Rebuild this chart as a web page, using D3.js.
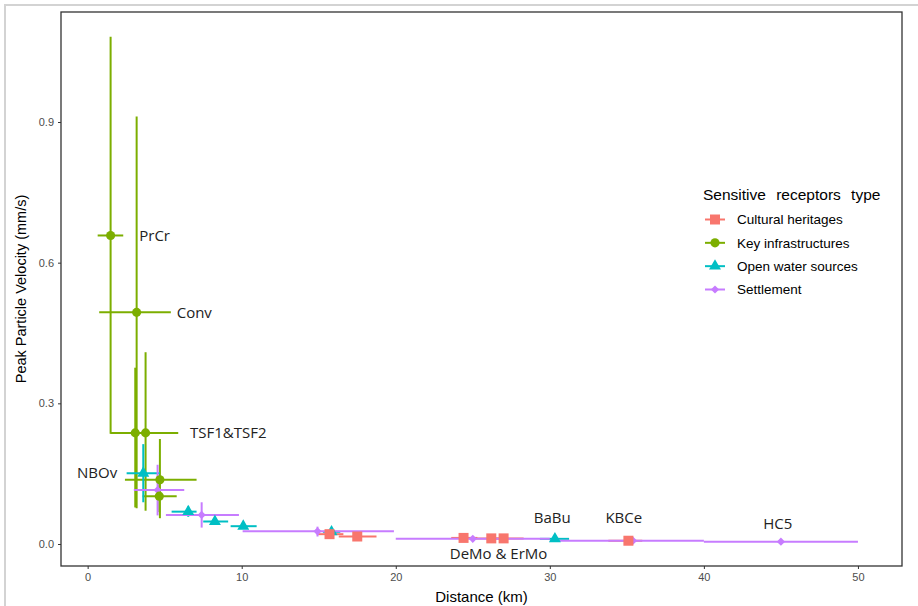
<!DOCTYPE html>
<html>
<head>
<meta charset="utf-8">
<script src="https://cdn.jsdelivr.net/npm/d3@7"></script>
<style>
  body { margin: 0; background: #fff; }
  svg { display: block; }
</style>
</head>
<body>
<svg id="chart" width="918" height="606"></svg>
<script>
// Données : [distance, ppv, distMin, distMax, ppvMin, ppvMax]
const cultural = [
  [15.7, 0.021, 14.9, 16.6, 0.018, 0.024],
  [17.5, 0.016, 16.3, 18.75, 0.013, 0.019],
  [24.4, 0.013, 23.6, 25.3, 0.011, 0.015],
  [26.2, 0.012, 25.2, 27.3, 0.010, 0.014],
  [27.0, 0.012, 26.0, 28.3, 0.010, 0.014],
  [35.1, 0.007, 33.8, 36.0, 0.006, 0.008]
];
const keyInfra = [
  [1.49, 0.658, 0.65, 2.31, 0.235, 1.082],
  [3.18, 0.494, 0.75, 5.40, 0.076, 0.912],
  [3.09, 0.237, 1.49, 4.70, 0.078, 0.376],
  [3.76, 0.237, 1.50, 5.88, 0.071, 0.409],
  [4.69, 0.137, 2.42, 7.07, 0.055, 0.224],
  [4.65, 0.102, 3.57, 5.78, 0.068, 0.135]
];
const openWater = [
  [3.61, 0.151, 2.53, 4.69, 0.089, 0.213],
  [6.53, 0.069, 5.45, 7.07, 0.058, 0.080],
  [8.26, 0.048, 7.50, 9.12, 0.042, 0.054],
  [10.1, 0.038, 9.28, 10.97, 0.033, 0.042],
  [15.83, 0.026, 15.27, 16.4, 0.020, 0.032],
  [30.33, 0.011, 29.35, 31.25, 0.009, 0.012]
];
const settlement = [
  [4.54, 0.115, 3.00, 6.27, 0.061, 0.169],
  [7.40, 0.062, 5.08, 9.82, 0.035, 0.089],
  [14.92, 0.027, 10.06, 19.88, 0.016, 0.037],
  [25.0, 0.011, 20.0, 30.0, 0.010, 0.012],
  [35.4, 0.007, 30.0, 40.0, 0.006, 0.008],
  [45.0, 0.005, 40.0, 50.0, 0.004, 0.006]
];

// Étiquettes des sites : [texte, distance, ppv, ancrage]
const siteLabels = [
  ["PrCr", 3.35, 0.658, "start"],
  ["Conv", 5.78, 0.494, "start"],
  ["TSF1&TSF2", 6.64, 0.238, "start"],
  ["NBOv", 1.92, 0.153, "end"],
  ["DeMo & ErMo", 26.67, -0.020, "middle"],
  ["BaBu", 30.16, 0.055, "middle"],
  ["KBCe", 34.8, 0.055, "middle"],
  ["HC5", 44.8, 0.044, "middle"]
];

const xTicks = [0, 10, 20, 30, 40, 50];
const yTicks = [0, 0.3, 0.6, 0.9];

const groups = [
  { name: "Cultural heritages", color: "#F8766D", shape: "square", data: cultural },
  { name: "Key infrastructures", color: "#7CAE00", shape: "circle", data: keyInfra },
  { name: "Open water sources", color: "#00BFC4", shape: "triangle", data: openWater },
  { name: "Settlement", color: "#C77CFF", shape: "diamond", data: settlement }
];

const svg = d3.select("#chart");

// Zone du panneau
const panel = { left: 61, right: 902, top: 12, bottom: 566 };

const x = d3.scaleLinear()
  .domain([-1.73, 52.86])
  .range([panel.left, panel.right]);

const y = d3.scaleLinear()
  .domain([-0.0469, 1.1346])
  .range([panel.bottom, panel.top]);

// Cadre gris clair autour de l'image
svg.append("path")
  .attr("d", "M5,606V5H918")
  .attr("fill", "none")
  .attr("stroke", "#d3d3d3")
  .attr("stroke-width", 2);

// Axes
const xAxis = svg.append("g")
  .attr("transform", `translate(0,${panel.bottom})`)
  .call(d3.axisBottom(x).tickValues(xTicks).tickSize(3).tickPadding(4).tickFormat(d3.format("d")));

const yAxis = svg.append("g")
  .attr("transform", `translate(${panel.left},0)`)
  .call(d3.axisLeft(y).tickValues(yTicks).tickSize(3).tickPadding(4).tickFormat(d3.format(".1f")));

[xAxis, yAxis].forEach(a => {
  a.select(".domain").remove();
  a.selectAll(".tick line").attr("stroke", "#333");
  a.selectAll(".tick text")
    .attr("fill", "#4d4d4d")
    .style("font-family", "Liberation Sans, Arial, sans-serif")
    .style("font-size", "11px");
});

// Bordure du panneau
svg.append("rect")
  .attr("x", panel.left)
  .attr("y", panel.top)
  .attr("width", panel.right - panel.left)
  .attr("height", panel.bottom - panel.top)
  .attr("fill", "none")
  .attr("stroke", "#333")
  .attr("stroke-width", 1.3);

// Barres d'erreur (toutes avant les points)
const bars = svg.append("g");
groups.forEach(g => {
  bars.selectAll(null)
    .data(g.data)
    .join("line")
    .attr("x1", d => x(d[2]))
    .attr("x2", d => x(d[3]))
    .attr("y1", d => y(d[1]))
    .attr("y2", d => y(d[1]))
    .attr("stroke", g.color)
    .attr("stroke-width", 2);
  bars.selectAll(null)
    .data(g.data)
    .join("line")
    .attr("x1", d => x(d[0]))
    .attr("x2", d => x(d[0]))
    .attr("y1", d => y(d[4]))
    .attr("y2", d => y(d[5]))
    .attr("stroke", g.color)
    .attr("stroke-width", 2);
});

// Symboles
const symbols = {
  square: d3.symbol().type(d3.symbolSquare).size(100),
  circle: d3.symbol().type(d3.symbolCircle).size(66),
  triangle: d3.symbol().type(d3.symbolTriangle).size(62),
  diamond: d3.symbol().type(d3.symbolSquare).size(34)
};
const rot = s => (s === "diamond" ? " rotate(45)" : "");

const drawOrder = [3, 2, 1, 0];
drawOrder.forEach(i => {
  const g = groups[i];
  svg.append("g")
    .selectAll("path")
    .data(g.data)
    .join("path")
    .attr("d", symbols[g.shape]())
    .attr("transform", d => `translate(${x(d[0])},${y(d[1])})` + rot(g.shape))
    .attr("fill", g.color);
});

// Étiquettes des sites
svg.append("g")
  .selectAll("text")
  .data(siteLabels)
  .join("text")
  .attr("x", d => x(d[1]))
  .attr("y", d => y(d[2]))
  .attr("dy", "0.35em")
  .attr("text-anchor", d => d[3])
  .attr("fill", "#222")
  .style("font-family", "Open Sans, Lato, sans-serif")
  .style("font-size", "15px")
  .text(d => d[0]);

// Titres des axes
svg.append("text")
  .attr("x", (panel.left + panel.right) / 2)
  .attr("y", 602)
  .attr("text-anchor", "middle")
  .style("font-family", "Liberation Sans, Arial, sans-serif")
  .style("font-size", "15px")
  .text("Distance (km)");

svg.append("text")
  .attr("transform", `translate(26,${(panel.top + panel.bottom) / 2}) rotate(-90)`)
  .attr("text-anchor", "middle")
  .style("font-family", "Liberation Sans, Arial, sans-serif")
  .style("font-size", "14.5px")
  .text("Peak Particle Velocity (mm/s)");

// Légende
const legend = svg.append("g").attr("transform", "translate(703,0)");
legend.append("text")
  .attr("x", 0)
  .attr("y", 200)
  .style("font-family", "Liberation Sans, Arial, sans-serif")
  .style("font-size", "15.5px")
  .style("word-spacing", "6px")
  .text("Sensitive receptors type");

const legendY = d3.scalePoint()
  .domain(groups.map(g => g.name))
  .range([219.5, 289.5]);

groups.forEach(g => {
  const cy = legendY(g.name);
  legend.append("line")
    .attr("x1", 2).attr("x2", 22)
    .attr("y1", cy).attr("y2", cy)
    .attr("stroke", g.color)
    .attr("stroke-width", 2);
  legend.append("path")
    .attr("d", symbols[g.shape]())
    .attr("transform", `translate(12,${cy})` + rot(g.shape))
    .attr("fill", g.color);
  legend.append("text")
    .attr("x", 34)
    .attr("y", cy)
    .attr("dy", "0.35em")
    .style("font-family", "Liberation Sans, Arial, sans-serif")
    .style("font-size", "13.5px")
    .text(g.name);
});
</script>
</body>
</html>
